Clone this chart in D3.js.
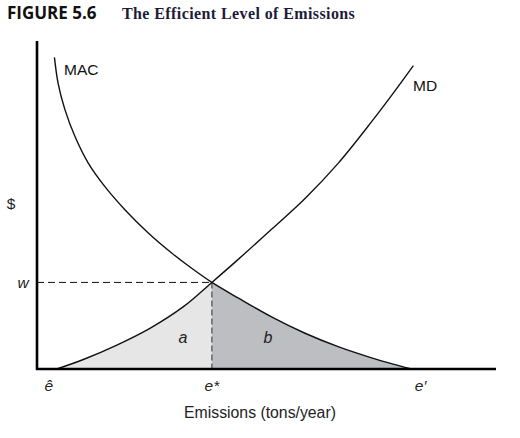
<!DOCTYPE html>
<html>
<head>
<meta charset="utf-8">
<script src="https://cdn.jsdelivr.net/npm/d3@7"></script>
<style>
  body { margin: 0; background: #fff; }
  svg { display: block; }
</style>
</head>
<body>
<div id="chart"></div>
<script>
// curve samples, emissions (x) and $ (y) in arbitrary units
const mdX = [4.3, 10.1, 17.4, 24.6, 31.9, 38.1, 43.9, 51.1, 58.4, 65.6, 72.9, 77.3, 82.0]
const mdY = [0, 2.9, 7.3, 12.4, 19.0, 26.4, 33.5, 42.6, 52.0, 62.7, 75.4, 83.5, 92.5]

const macX = [3.8, 4.6, 6.1, 8.3, 11.2, 14.8, 19.2, 24.3, 29.4, 33.7, 38.1, 43.9, 51.1, 58.4, 65.6, 72.9, 81.6]
const macY = [95.0, 87.1, 79.0, 70.8, 62.7, 55.6, 48.5, 41.4, 35.3, 30.7, 26.4, 21.6, 15.9, 10.9, 6.8, 3.4, 0]

const eHat = 4.3
const eStar = 38.1
const ePrime = 81.6
const w = 26.4

const xTicks = [eHat, eStar, ePrime]
const xTickLabels = ['ê', 'e*', 'e′']

const width = 520
const height = 438
const sans = '"Liberation Sans", Arial, sans-serif'

const svg = d3.select('#chart')
  .append('svg')
  .attr('width', width)
  .attr('height', height)
  .style('font-family', sans)

const x = d3.scaleLinear().domain([0, 100]).range([37, 496])
const y = d3.scaleLinear().domain([0, 100]).range([369, 41])

const md = mdX.map((d, i) => [d, mdY[i]])
const mac = macX.map((d, i) => [d, macY[i]])

const line = d3.line()
  .x(d => x(d[0]))
  .y(d => y(d[1]))
  .curve(d3.curveCatmullRom.alpha(0.5))

// shaded areas
const area = d3.area()
  .x(d => x(d[0]))
  .y0(y(0))
  .y1(d => y(d[1]))
  .curve(d3.curveCatmullRom.alpha(0.5))

svg.append('path')
  .attr('d', area(md.filter(d => d[0] <= eStar)))
  .attr('fill', '#e6e6e6')

svg.append('path')
  .attr('d', area(mac.filter(d => d[0] >= eStar)))
  .attr('fill', '#bdbec1')

// dashed guides
svg.append('line')
  .attr('x1', x(0)).attr('x2', x(eStar))
  .attr('y1', y(w)).attr('y2', y(w))
  .attr('stroke', '#111')
  .attr('stroke-width', 1)
  .attr('stroke-dasharray', '7,4')

svg.append('line')
  .attr('x1', x(eStar)).attr('x2', x(eStar))
  .attr('y1', y(w)).attr('y2', y(0))
  .attr('stroke', '#666')
  .attr('stroke-width', 1.5)
  .attr('stroke-dasharray', '6,3')

// curves
svg.append('path')
  .attr('d', line(md))
  .attr('fill', 'none')
  .attr('stroke', '#111')
  .attr('stroke-width', 1.4)

svg.append('path')
  .attr('d', line(mac))
  .attr('fill', 'none')
  .attr('stroke', '#111')
  .attr('stroke-width', 1.4)

// axes
svg.append('line')
  .attr('x1', x(0)).attr('x2', x(0))
  .attr('y1', y(100)).attr('y2', y(0) + 1)
  .attr('stroke', '#000')
  .attr('stroke-width', 2.6)

svg.append('line')
  .attr('x1', x(0) - 1).attr('x2', x(100))
  .attr('y1', y(0)).attr('y2', y(0))
  .attr('stroke', '#000')
  .attr('stroke-width', 2.6)

// tick labels
svg.selectAll('.xlab')
  .data(xTicks)
  .enter()
  .append('text')
  .attr('class', 'xlab')
  .attr('x', (d, i) => x(d) + [-8, 0, 9][i])
  .attr('y', 391)
  .attr('text-anchor', 'middle')
  .attr('font-size', 15.5)
  .attr('font-style', 'italic')
  .attr('fill', '#222')
  .text((d, i) => xTickLabels[i])

svg.append('text')
  .attr('x', 23).attr('y', y(w))
  .attr('dy', '0.35em')
  .attr('text-anchor', 'middle')
  .attr('font-size', 15.5)
  .attr('font-style', 'italic')
  .attr('fill', '#222')
  .text('w')

svg.append('text')
  .attr('x', 11).attr('y', 204)
  .attr('dy', '0.35em')
  .attr('text-anchor', 'middle')
  .attr('font-size', 15.5)
  .attr('fill', '#222')
  .text('$')

svg.append('text')
  .attr('x', 260).attr('y', 418)
  .attr('text-anchor', 'middle')
  .attr('font-size', 15.8)
  .attr('fill', '#222')
  .text('Emissions (tons/year)')

// curve labels
svg.append('text')
  .attr('x', 64).attr('y', 75)
  .attr('font-size', 15.5)
  .attr('fill', '#111')
  .text('MAC')

svg.append('text')
  .attr('x', 413).attr('y', 91)
  .attr('font-size', 15.5)
  .attr('fill', '#111')
  .text('MD')

// area labels
svg.append('text')
  .attr('x', 183).attr('y', 337)
  .attr('dy', '0.35em')
  .attr('text-anchor', 'middle')
  .attr('font-size', 16)
  .attr('font-style', 'italic')
  .attr('fill', '#222')
  .text('a')

svg.append('text')
  .attr('x', 268).attr('y', 337)
  .attr('dy', '0.35em')
  .attr('text-anchor', 'middle')
  .attr('font-size', 16)
  .attr('font-style', 'italic')
  .attr('fill', '#222')
  .text('b')

// title
svg.append('text')
  .attr('x', 7).attr('y', 19)
  .style('font-family', '"Open Sans", "Noto Sans", sans-serif')
  .attr('font-weight', 'bold')
  .attr('font-size', 17)
  .attr('fill', '#111')
  .text('FIGURE 5.6')

svg.append('text')
  .attr('x', 122).attr('y', 19)
  .style('font-family', '"Liberation Serif", "DejaVu Serif", serif')
  .style('letter-spacing', '0.4px')
  .attr('font-weight', 'bold')
  .attr('font-size', 16)
  .attr('fill', '#1c1c3a')
  .text('The Efficient Level of Emissions')
</script>
</body>
</html>
